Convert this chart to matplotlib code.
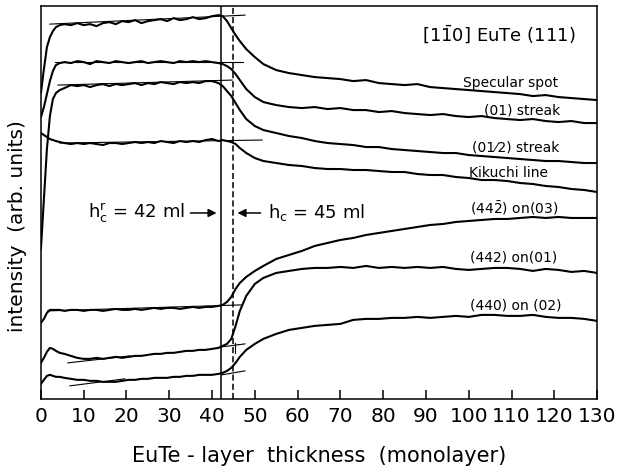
import matplotlib
matplotlib.use("Agg")
import matplotlib.pyplot as plt
from matplotlib import font_manager

# thickness grid (monolayer) shared by all traces
thick = [0, 0.7, 1.4, 2.1, 2.8, 3.5, 4.4,
         5.5, 7, 8.5, 10, 11.5, 13, 14.5, 16, 17.5, 19,
         20.5, 22, 23.5, 25, 26.5, 28, 29.5, 31, 32.5, 34,
         35.5, 37, 38.5, 40, 41.5, 42.5, 43.5, 44.5, 45.5, 46.5,
         48, 50, 52, 55, 58, 61, 64, 67, 70, 73,
         76, 79, 82, 85, 88, 91, 94, 97, 100, 103,
         106, 109, 112, 115, 118, 121, 124, 127, 130]

specular = [306, 330, 352, 362, 368, 372, 374,
            375, 374, 376, 374, 375, 373, 376, 377, 375, 378,
            377, 379, 376, 378, 379, 380, 378, 381, 379, 380,
            382, 380, 381, 383, 384, 383, 378, 371, 364, 358,
            350, 342, 335, 329, 326, 324, 322, 321, 320, 318,
            319, 316, 315, 314, 315, 312, 311, 310, 309, 308,
            307, 306, 305, 303, 304, 302, 301, 300, 299]

streak01 = [282, 292, 305, 318, 328, 334, 336,
            337, 336, 338, 337, 335, 338, 337, 336, 338, 337,
            336, 337, 338, 336, 337, 338, 337, 336, 338, 337,
            338, 337, 338, 337, 336, 335, 333, 330, 325, 319,
            310, 302, 297, 294, 292, 291, 292, 290, 291, 289,
            289, 287, 288, 286, 285, 284, 285, 283, 282, 283,
            281, 280, 279, 280, 278, 277, 278, 276, 276]

streak0half = [150, 200, 250, 283, 300, 306, 309,
               311, 314, 313, 314, 312, 314, 315, 313, 315, 314,
               315, 316, 314, 316, 315, 317, 316, 315, 317, 316,
               317, 316, 318, 318, 316, 313, 308, 303, 296, 289,
               280, 273, 269, 266, 263, 261, 258, 256, 255, 254,
               252, 252, 250, 249, 248, 247, 246, 246, 244, 243,
               242, 241, 240, 239, 238, 238, 237, 236, 236]

kikuchi = [266, 264, 262, 260, 259, 258, 257,
           256, 255, 256, 255, 256, 255, 254, 256, 256, 255,
           256, 257, 256, 257, 256, 258, 257, 256, 258, 257,
           258, 257, 259, 260, 258, 259, 258, 257, 255, 251,
           246, 241, 238, 236, 234, 233, 231, 230, 230, 229,
           229, 228, 227, 227, 225, 224, 224, 222, 221, 219,
           219, 218, 216, 215, 213, 212, 210, 209, 207]

spot_442b_03 = [76, 80, 86, 89, 89, 89, 89,
                88, 89, 89, 88, 89, 89, 88, 89, 90, 89,
                89, 90, 89, 90, 91, 90, 91, 91, 90, 91,
                92, 91, 92, 92, 93, 94, 97, 102, 110, 116,
                122, 128, 133, 140, 144, 148, 153, 156, 159, 161,
                164, 166, 168, 170, 172, 174, 175, 177, 178, 179,
                180, 180, 181, 182, 181, 182, 181, 181, 181]

spot_442_01 = [36, 41, 47, 51, 50, 48, 46,
               45, 43, 41, 40, 40, 41, 40, 41, 42, 41,
               42, 43, 43, 44, 45, 45, 46, 46, 47, 48,
               48, 49, 49, 50, 51, 53, 55, 60, 73, 88,
               103, 115, 121, 126, 128, 130, 131, 131, 132, 131,
               133, 131, 132, 131, 132, 131, 132, 130, 129, 130,
               131, 131, 130, 128, 130, 129, 127, 128, 126]

spot_440_02 = [15, 19, 23, 24, 23, 22, 22,
               21, 20, 19, 19, 18, 18, 17, 17, 17, 18,
               19, 19, 20, 20, 21, 21, 21, 22, 22, 23,
               23, 24, 24, 24, 25, 26, 28, 31, 36, 42,
               49, 55, 60, 65, 69, 71, 73, 74, 75, 79,
               80, 80, 81, 81, 82, 81, 82, 83, 82, 84,
               84, 83, 83, 84, 82, 81, 81, 80, 78]

traces = [specular, streak01, streak0half, kikuchi,
          spot_442b_03, spot_442_01, spot_440_02]

# hand-drawn tangents: (x0, x1, y0, y1)
tangents = [(2.1, 47.7, 375, 384),
            (3.3, 47.2, 337, 337),
            (4.0, 44.7, 314, 319),
            (4.4, 51.7, 256, 259),
            (1.6, 46.8, 88, 94),
            (6.3, 20.8, 36, 43),
            (42.3, 47.7, 52, 55),
            (6.8, 19.6, 13, 20),
            (42.3, 47.7, 24, 28)]

labels = ["Specular spot", "(01) streak", "(01\u20442) streak", "Kikuchi line",
          r"(44$\bar{2}$) on(03)", "(442) on(01)", "(440) on (02)"]
label_x = [120.9, 121.3, 121.3, 118.5, 120.9, 120.6, 121.8]
label_y = [316, 289, 252, 226, 191, 141, 93]

hc_relax = 42
hc = 45

names = set(f.name for f in font_manager.fontManager.ttflist)
narrow = 'Liberation Sans Narrow' if 'Liberation Sans Narrow' in names else 'DejaVu Sans'

plt.rcParams['font.family'] = ['DejaVu Sans']
plt.rcParams['mathtext.fontset'] = 'dejavusans'

fig = plt.figure(figsize=(6.2, 4.72), dpi=100)
ax = fig.add_axes([0.066, 0.155, 0.897, 0.832])

for tr in traces:
    ax.plot(thick, tr, color='black', lw=1.5, solid_joinstyle='round')

for x0, x1, y0, y1 in tangents:
    ax.plot([x0, x1], [y0, y1], color='black', lw=0.8)
ax.plot([45.4, 45.4], [46, 56], color='black', lw=0.8)

ax.axvline(hc_relax, color='black', lw=1.1)
ax.axvline(hc, color='black', lw=1.1, linestyle=(0, (4, 2)))

for s, x, y in zip(labels, label_x, label_y):
    ax.text(x, y, s, ha='right', va='center', fontsize=10, family=narrow)

ax.text(107.1, 364, r"[1$\bar{1}$0] EuTe (111)", ha='center', va='center',
        fontsize=13, family=narrow)

ax.text(33.7, 186, r"h$_\mathregular{c}^\mathregular{r}$ = 42 ml", ha='right',
        va='center', fontsize=13, family=narrow)
ax.annotate('', xy=(41.7, 186), xytext=(34.3, 186),
            arrowprops=dict(arrowstyle='-|>', lw=1.1, color='black', mutation_scale=12))
ax.text(53.1, 186, r"h$_\mathregular{c}$ = 45 ml", ha='left',
        va='center', fontsize=13, family=narrow)
ax.annotate('', xy=(45.3, 186), xytext=(52.0, 186),
            arrowprops=dict(arrowstyle='-|>', lw=1.1, color='black', mutation_scale=12))

ax.set_xlim(0, 130)
ax.set_ylim(0, 393)
ax.set_xticks(range(0, 131, 10))
ax.set_yticks([])
ax.tick_params(axis='x', direction='in', length=6.5, width=1.1, pad=6)
for lab in ax.get_xticklabels():
    lab.set_fontsize(17 if narrow != 'DejaVu Sans' else 14.5)
    lab.set_family(narrow)
for sp in ax.spines.values():
    sp.set_linewidth(1.1)

ax.set_xlabel("EuTe - layer  thickness  (monolayer)", fontsize=15)
ax.xaxis.set_label_coords(0.5, -0.12)
ax.set_ylabel("intensity  (arb. units)", fontsize=14.5)
ax.yaxis.set_label_coords(-0.025, 0.44)

fig.savefig("out.png", dpi=100)
